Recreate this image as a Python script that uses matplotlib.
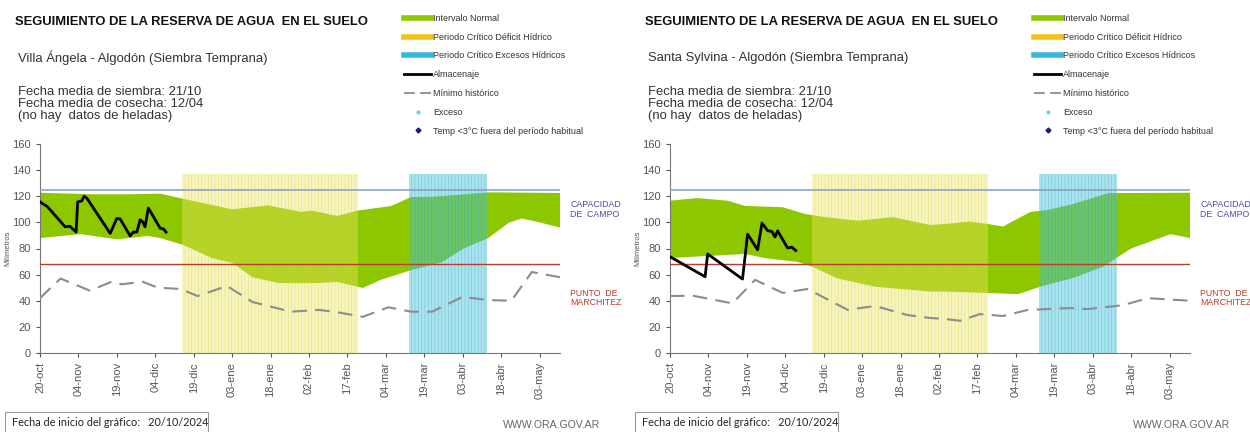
import matplotlib
matplotlib.use("Agg")
import matplotlib.pyplot as plt
from matplotlib.lines import Line2D
from matplotlib.patches import Rectangle

plt.rcParams["font.family"] = ["Liberation Sans", "DejaVu Sans"]
plt.rcParams["hatch.linewidth"] = 0.5

# eje x: días desde el 20/10/2024
tick_days = [0, 15, 30, 45, 60, 75, 90, 105, 120, 135, 150, 165, 180, 195]
tick_labels = ["20-oct", "04-nov", "19-nov", "04-dic", "19-dic", "03-ene", "18-ene",
               "02-feb", "17-feb", "04-mar", "19-mar", "03-abr", "18-abr", "03-may"]

capacidad_campo = 125
punto_marchitez = 68
deficit_periodo = (55.5, 124)
exceso_periodo = (144, 174.5)
tope_periodos = 137

# Villa Ángela
va_sup_dias = [0, 20, 35, 47, 56, 75, 89, 102, 106, 116, 124, 137, 145, 153, 175, 203]
va_sup = [122.7, 121.5, 121.5, 122, 118, 110, 113, 108, 109, 105, 109, 112.5, 119.5, 119.5, 123, 122.5]
va_inf_dias = [0, 16, 30, 42, 47, 56, 67, 75, 83, 93, 102, 109, 116, 126, 133, 145, 157, 165, 175, 183, 188, 195, 203]
va_inf = [88, 91, 87, 89.6, 88, 82.7, 72.7, 69, 58, 53.6, 53.5, 53.6, 54.4, 49.8, 56, 63.5, 69.6, 79.6, 88, 99.7, 103, 100, 96]
va_min_dias = [0, 8, 19.5, 28, 32, 40, 46, 55, 61.5, 73, 83, 98, 109, 117, 126, 136, 145, 153, 165, 175, 184, 192, 203]
va_min = [42, 57, 47.7, 54.6, 52.6, 54.6, 50, 49, 43.6, 51.3, 39, 31.6, 33, 30.9, 27.7, 35, 31.6, 31.6, 43, 40.5, 40, 62, 58]
va_alm_dias = [0, 2.9, 9.8, 11.7, 14.1, 14.7, 16.3, 17.2, 18.3, 27.4, 30, 31.3, 35.2, 36.4, 37.8,
               39.1, 40, 41, 42.3, 46.9, 48.2, 49.2]
va_alm = [115.7, 112, 96.6, 97, 92.6, 115.7, 116.4, 120, 118.5, 91.6, 103, 102.6, 89.6, 92.5, 92.6,
          102, 100.6, 96.6, 111, 95.5, 95, 92.6]

# Santa Sylvina
ss_sup_dias = [0, 10.7, 22.5, 29.3, 44, 52.8, 60.6, 73.3, 87, 101.6, 107.5, 117, 124, 130, 140.7, 147.5, 157.3, 171, 203]
ss_sup = [116.6, 118.6, 116.6, 112.6, 111.6, 106.4, 104, 101.3, 104, 98, 98.8, 100.6, 98.8, 96.8, 108, 109.5, 114, 122.4, 122.7]
ss_inf_dias = [0, 14.7, 29.3, 37, 49.8, 55.7, 65.5, 80, 101.6, 107.5, 124, 135.8, 144.6, 157.3, 169, 180, 195.4, 203]
ss_inf = [72.7, 74.3, 75.8, 72.7, 69.7, 66, 57, 50.8, 47, 47, 46, 45, 50.8, 57.4, 66, 80, 91, 88]
ss_min_dias = [0, 8.8, 24.4, 33.2, 44, 53.7, 69.4, 80, 92.8, 101.6, 107.5, 113.3, 121, 130, 139.7, 156.3, 163, 176.8, 186.6, 203]
ss_min = [43.6, 43.9, 38, 56, 46, 49, 33, 36, 29, 26.8, 26, 24.7, 29.8, 28.3, 33, 34.4, 33.6, 36.6, 42, 40]
ss_alm_dias = [0, 13.7, 14.7, 28.3, 30.3, 34.2, 35.9, 38.1, 39.8, 41, 42, 45.9, 47.6, 49.1]
ss_alm = [73.7, 58.4, 75.8, 56.6, 91, 79, 99.5, 93.7, 93, 88.8, 93.6, 80.4, 81, 78.4]

VERDE = "#8cc700"
GRIS = "#555555"

fig = plt.figure(figsize=(12.5, 4.32), dpi=100)


def panel(x0, lugar, sup_d, sup, inf_d, inf, min_d, mn, alm_d, alm):
    W, H = 1250, 432
    ax = fig.add_axes([(x0 + 40) / W, 1 - 353 / H, 520 / W, 209 / H])

    # intervalo normal
    ax.fill(sup_d + inf_d[::-1], sup + inf[::-1], color=VERDE, lw=0, zorder=1)

    # periodos críticos (bandas rayadas)
    for (a, b), fc, ec in [(deficit_periodo, (0.93, 0.91, 0.38, 0.4), (0.85, 0.80, 0.25, 0.45)),
                           (exceso_periodo, (0.27, 0.77, 0.86, 0.45), (0.20, 0.65, 0.78, 0.45))]:
        ax.bar(a, tope_periodos, width=b - a, align="edge", facecolor=fc,
               edgecolor=ec, hatch="|||||", lw=0, zorder=2)

    ax.axhline(capacidad_campo, color="#8aa4c4", lw=1.2, zorder=3)
    ax.axhline(punto_marchitez, color="#c0392b", lw=1.0, zorder=3)

    ax.plot(min_d, mn, color="#8c8c8c", lw=1.5, dashes=(7, 4), zorder=4)
    ax.plot(alm_d, alm, color="black", lw=2, zorder=5)

    ax.set_xlim(0, 203)
    ax.set_ylim(0, 160)
    ax.set_yticks(range(0, 161, 20))
    ax.set_xticks(tick_days)
    ax.set_xticklabels(tick_labels, rotation=90)
    ax.tick_params(labelsize=8, colors=GRIS, length=3, width=0.8)
    for s in ["top", "right"]:
        ax.spines[s].set_visible(False)
    for s in ["left", "bottom"]:
        ax.spines[s].set_color("#777777")
    ax.set_ylabel("Milímetros", fontsize=5.5, color=GRIS, labelpad=1)

    ax.text(207, 110, "CAPACIDAD\nDE  CAMPO", fontsize=6.3, color="#4a4aa8",
            va="center", ha="left", linespacing=1.1, clip_on=False)
    ax.text(207, 42, "PUNTO  DE\nMARCHITEZ", fontsize=6.3, color="#c0392b",
            va="center", ha="left", linespacing=1.1, clip_on=False)

    # textos
    fig.text((x0 + 15) / W, 1 - 22 / H, "SEGUIMIENTO DE LA RESERVA DE AGUA  EN EL SUELO",
             fontsize=9.4, weight="bold", color="#111111", va="center")
    fig.text((x0 + 18) / W, 1 - 58 / H, lugar + " - Algodón (Siembra Temprana)",
             fontsize=9.4, color="#333333", va="center")
    fig.text((x0 + 18) / W, 1 - 104 / H,
             "Fecha media de siembra: 21/10\nFecha media de cosecha: 12/04\n(no hay  datos de heladas)",
             fontsize=9.4, color="#333333", va="center", linespacing=0.98)

    handles = [
        Line2D([], [], color=VERDE, lw=4),
        Line2D([], [], color="#f0c419", lw=4),
        Line2D([], [], color="#33b9e0", lw=4),
        Line2D([], [], color="black", lw=2),
        Line2D([], [], color="#8c8c8c", lw=1.3, dashes=(6, 3)),
        Line2D([], [], color="#6fd0e8", marker="o", ms=2, ls="none"),
        Line2D([], [], color="#1a1a80", marker="D", ms=2.5, ls="none"),
    ]
    labels = ["Intervalo Normal", "Periodo Crítico Déficit Hídrico",
              "Periodo Crítico Excesos Hídricos", "Almacenaje", "Mínimo histórico",
              "Exceso", "Temp <3°C fuera del período habitual"]
    fig.legend(handles, labels, loc="upper left", bbox_to_anchor=((x0 + 404) / W, 1 - 14 / H),
               frameon=False, fontsize=6.5, labelspacing=1.08, handlelength=3.0,
               handletextpad=0.2, borderpad=0, borderaxespad=0, labelcolor="#333333")

    # pie
    fig.patches.append(Rectangle(((x0 + 5) / W, -0.01), 203 / W, (20 / H) + 0.01,
                                 transform=fig.transFigure, fill=False,
                                 edgecolor="#999999", lw=0.8))
    fig.text((x0 + 12) / W, 1 - 423 / H, "Fecha de inicio del gráfico:   20/10/2024",
             fontsize=7.8, color="#222222", va="center", family=["Lato", "DejaVu Sans"])
    fig.text((x0 + 600) / W, 1 - 425 / H, "WWW.ORA.GOV.AR", fontsize=7.6,
             color="#666666", va="center", ha="right")


panel(0, "Villa Ángela", va_sup_dias, va_sup, va_inf_dias, va_inf,
      va_min_dias, va_min, va_alm_dias, va_alm)
panel(630, "Santa Sylvina", ss_sup_dias, ss_sup, ss_inf_dias, ss_inf,
      ss_min_dias, ss_min, ss_alm_dias, ss_alm)

fig.savefig("out.png", dpi=100)
